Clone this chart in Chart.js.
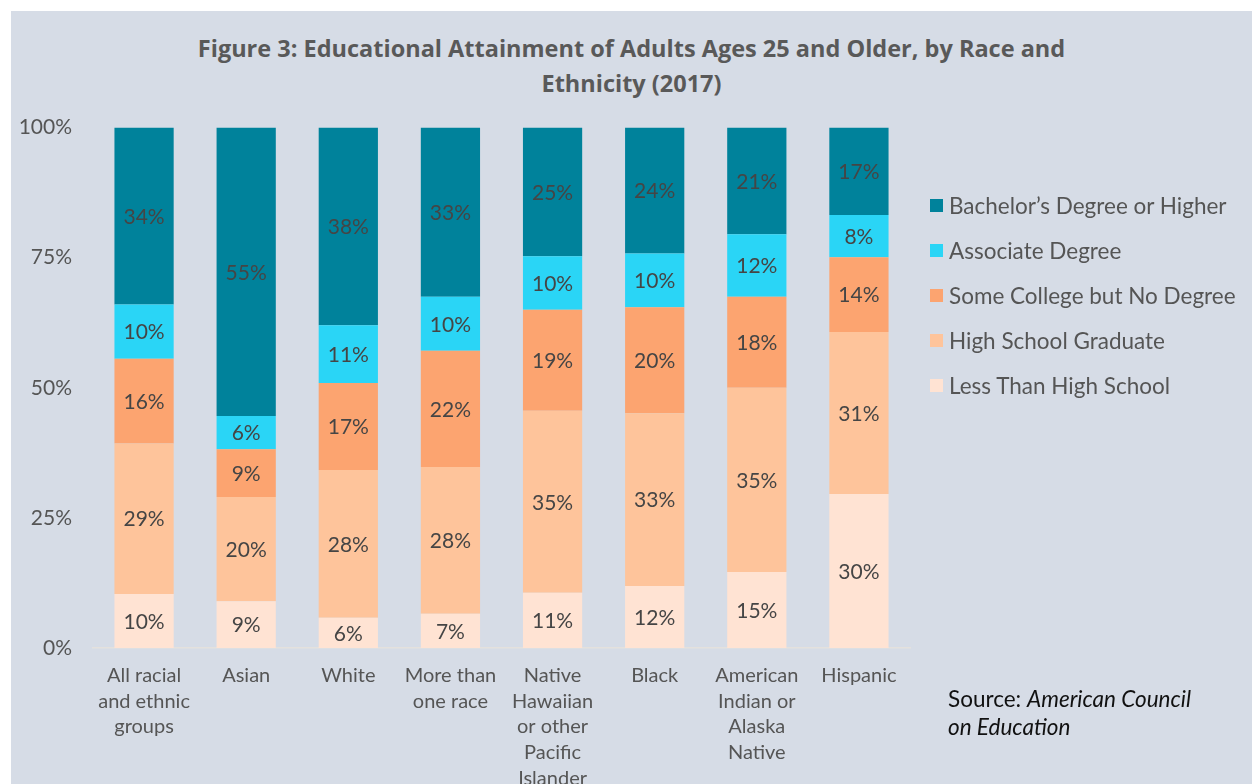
<!DOCTYPE html>
<html>
<head>
<meta charset="utf-8">
<script src="https://cdn.jsdelivr.net/npm/chart.js@4"></script>
<style>
    html, body { margin: 0; padding: 0; background: #fff; }
    #panel {
        position: absolute; left: 11px; top: 11px; width: 1241px; height: 773px;
        background: #d6dce6; overflow: hidden;
        font-family: Lato, "Open Sans", sans-serif;
    }
    #title {
        position: absolute; left: 0; top: 20px; width: 1241px; text-align: center;
        font-family: "Open Sans", Lato, sans-serif;
        font-weight: bold; font-size: 23.5px; line-height: 35px; color: #595959;
    }
    #chartBox { position: absolute; left: 0; top: 83px; width: 1241px; height: 690px; }
    #legend { position: absolute; left: 919px; top: 172px; }
    .item { height: 45px; display: flex; align-items: center; font-size: 22.5px; color: #555; }
    .item span.box { width: 13px; height: 13px; margin-right: 6px; display: inline-block; }
    #source {
        position: absolute; left: 937px; top: 674px; font-size: 22.5px; line-height: 28px; color: #111;
    }
</style>
</head>
<body>
<div id="panel">
    <div id="title">Figure 3: Educational Attainment of Adults Ages 25 and Older, by Race and<br>Ethnicity (2017)</div>
    <div id="chartBox"><canvas id="chart"></canvas></div>
    <div id="legend"></div>
    <div id="source">Source: <i>American Council<br>on Education</i></div>
</div>
<script>
// === data ===
const groups = [
    ["All racial", "and ethnic", "groups"],
    "Asian",
    "White",
    ["More than", "one race"],
    ["Native", "Hawaiian", "or other", "Pacific", "Islander"],
    "Black",
    ["American", "Indian or", "Alaska", "Native"],
    "Hispanic",
];
const lessThanHS   = [10.4, 9.0, 5.8, 6.6, 10.6, 11.9, 14.6, 29.6];
const hsGraduate   = [28.9, 20.0, 28.4, 28.2, 35.0, 33.2, 35.4, 31.1];
const someCollege  = [16.3, 9.2, 16.7, 22.3, 19.4, 20.4, 17.5, 14.4];
const associate    = [10.4, 6.4, 11.1, 10.4, 10.3, 10.3, 12.0, 8.1];
const bachelors    = [34.0, 55.4, 38.0, 32.5, 24.7, 24.2, 20.5, 16.8];
const yTicks = [0, 25, 50, 75, 100];

const series = [
    { label: "Less Than High School", data: lessThanHS, color: "#ffe3d3" },
    { label: "High School Graduate", data: hsGraduate, color: "#fec49b" },
    { label: "Some College but No Degree", data: someCollege, color: "#fca470" },
    { label: "Associate Degree", data: associate, color: "#2ad5f6" },
    { label: "Bachelor\u2019s Degree or Higher", data: bachelors, color: "#00829b" },
];

// === legend (top to bottom = reversed stack) ===
const legendEl = document.getElementById("legend");
series.slice().reverse().forEach(s => {
    const row = document.createElement("div");
    row.className = "item";
    row.innerHTML = `<span class="box" style="background:${s.color}"></span>${s.label}`;
    legendEl.appendChild(row);
});

// === segment labels ===
const segmentLabels = {
    id: "segmentLabels",
    afterDatasetsDraw(chart) {
        const ctx = chart.ctx;
        ctx.save();
        ctx.font = "21px Lato, 'Open Sans', sans-serif";
        ctx.fillStyle = "#454545";
        ctx.textAlign = "center";
        ctx.textBaseline = "middle";
        chart.data.datasets.forEach((ds, i) => {
            chart.getDatasetMeta(i).data.forEach((bar, j) => {
                const y = (bar.y + bar.base) / 2;
                ctx.fillText(Math.round(ds.data[j]) + "%", bar.x, y + 1);
            });
        });
        ctx.restore();
    }
};

const ctx = document.getElementById("chart").getContext("2d");
new Chart(ctx, {
    type: "bar",
    data: {
        labels: groups,
        datasets: series.map(s => ({
            label: s.label,
            data: s.data,
            backgroundColor: s.color,
            borderWidth: 0,
            barPercentage: 0.58,
            categoryPercentage: 1,
        }))
    },
    options: {
        responsive: true,
        maintainAspectRatio: false,
        animation: false,
        layout: { padding: { top: 1, right: 342, left: 0, bottom: 0 } },
        scales: {
            x: {
                stacked: true,
                grid: { display: false, drawTicks: false },
                border: { display: true, color: "#e4e1dd", width: 1.5 },
                ticks: {
                    color: "#555",
                    font: { family: "Lato, 'Open Sans', sans-serif", size: 20, lineHeight: 1.28 },
                    padding: 15,
                    maxRotation: 0,
                    autoSkip: false,
                },
                afterFit(s) { s.height = 136; },
            },
            y: {
                stacked: true,
                min: 0,
                max: 100,
                grid: { display: false, drawTicks: false },
                border: { display: false },
                afterBuildTicks(s) { s.ticks = yTicks.map(v => ({ value: v })); },
                ticks: {
                    color: "#555",
                    font: { family: "Lato, 'Open Sans', sans-serif", size: 21 },
                    padding: 21,
                    callback: v => v + "%",
                },
                afterFit(s) { s.width = 82; },
            }
        },
        plugins: {
            legend: { display: false },
            tooltip: { enabled: false },
        }
    },
    plugins: [segmentLabels]
});
</script>
</body>
</html>
